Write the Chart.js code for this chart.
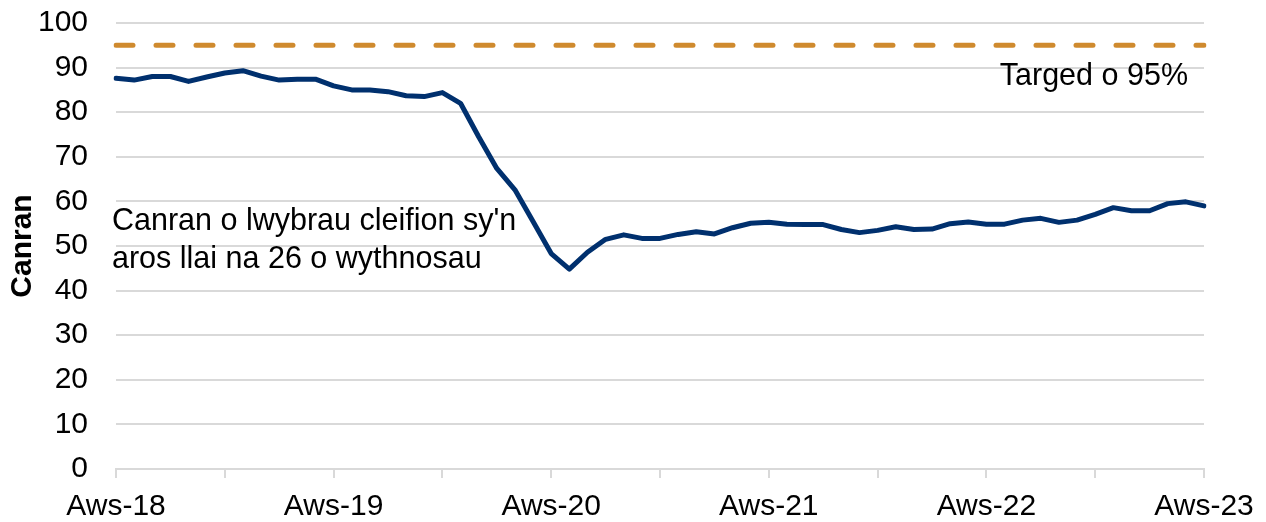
<!DOCTYPE html>
<html>
<head>
<meta charset="utf-8">
<script src="https://cdn.jsdelivr.net/npm/chart.js@4/dist/chart.umd.min.js"></script>
<style>
  html, body { margin: 0; padding: 0; background: #fff; }
  #wrap { width: 1266px; height: 522px; }
</style>
</head>
<body>
<div id="wrap"><canvas id="chart" width="1266" height="522"></canvas></div>
<script>
// Welsh month abbreviations, Aws-18 .. Aws-23
const months = ["Aws", "Med", "Hyd", "Tach", "Rhag", "Ion", "Chwef", "Maw", "Ebr", "Mai", "Meh", "Gorff"];
const firstYear = 18;
const labels = [];
for (let i = 0; i <= 60; i++) {
  const m = i % 12;
  const yr = firstYear + Math.floor((i + 7) / 12);
  labels.push(months[m] + "-" + yr);
}

// % of patient pathways waiting under 26 weeks
const canran = [
  87.6, 87.2, 88.0, 88.0, 86.9, 87.9, 88.8, 89.3, 88.1, 87.2, 87.4, 87.4,
  85.9, 85.0, 85.0, 84.6, 83.7, 83.5, 84.4, 82.0, 74.5, 67.4, 62.6, 55.5,
  48.3, 44.8, 48.6, 51.5, 52.5, 51.7, 51.7, 52.6, 53.2, 52.7, 54.1, 55.1,
  55.3, 54.9, 54.8, 54.8, 53.7, 53.0, 53.5, 54.3, 53.7, 53.8, 55.0, 55.4,
  54.9, 54.9, 55.8, 56.2, 55.3, 55.8, 57.1, 58.6, 57.9, 57.9, 59.5, 59.9,
  59.0
];

const targetValue = 95;
const targetData = [
  { x: labels[0], y: targetValue },
  { x: labels[labels.length - 1], y: targetValue }
];

const yTicks = { min: 0, max: 100, step: 10 };

const FONT = "'Liberation Sans', Arial, sans-serif";
Chart.defaults.font.family = FONT;
Chart.defaults.font.size = 30;
Chart.defaults.color = "#000";

// text labels inside the plot
const notes = {
  id: "notes",
  afterDatasetsDraw(chart) {
    const { ctx, chartArea } = chart;
    ctx.save();
    ctx.fillStyle = "#000";
    ctx.font = "30.5px " + FONT;
    ctx.textBaseline = "alphabetic";
    ctx.textAlign = "right";
    ctx.fillText("Targed o 95%", chartArea.right - 16, 85);
    ctx.textAlign = "left";
    ctx.fillText("Canran o lwybrau cleifion sy'n", chartArea.left - 4, 230);
    ctx.fillText("aros llai na 26 o wythnosau", chartArea.left - 4, 268);
    ctx.restore();
  }
};

const ctx = document.getElementById("chart").getContext("2d");
new Chart(ctx, {
  type: "line",
  data: {
    labels: labels,
    datasets: [
      {
        label: "Targed o 95%",
        data: targetData,
        borderColor: "#CF8A2E",
        borderWidth: 5,
        borderDash: [17, 23],
        borderCapStyle: "round",
        pointRadius: 0,
        order: 2
      },
      {
        label: "Canran",
        data: canran,
        borderColor: "#00306E",
        borderWidth: 5,
        borderJoinStyle: "round",
        borderCapStyle: "round",
        tension: 0,
        pointRadius: 0,
        order: 1
      }
    ]
  },
  options: {
    responsive: false,
    animation: false,
    events: [],
    layout: {
      padding: { top: 23, right: 62, left: 0, bottom: 0 }
    },
    plugins: {
      legend: { display: false },
      tooltip: { enabled: false }
    },
    scales: {
      x: {
        afterFit: (scale) => { scale.height = 53; },
        grid: {
          drawOnChartArea: false,
          drawTicks: true,
          tickLength: 9,
          lineWidth: 2,
          color: (c) => (c.index % 6 === 0 ? "#d9d9d9" : "rgba(0,0,0,0)")
        },
        border: { display: true, color: "#d9d9d9", width: 2 },
        ticks: {
          autoSkip: false,
          maxRotation: 0,
          minRotation: 0,
          padding: 11,
          callback: function (val, i) {
            return i % 12 === 0 ? this.getLabelForValue(val) : "";
          }
        }
      },
      y: {
        min: yTicks.min,
        max: yTicks.max,
        afterFit: (scale) => { scale.width = 116; },
        grid: {
          drawTicks: true,
          tickLength: 28,
          tickColor: "rgba(0,0,0,0)",
          color: "#d9d9d9",
          lineWidth: 2
        },
        border: { display: false },
        ticks: {
          stepSize: yTicks.step,
          padding: 0
        },
        title: {
          display: true,
          text: "Canran",
          font: { size: 30, weight: "bold" },
          padding: { top: 5, bottom: 0 }
        }
      }
    }
  },
  plugins: [notes]
});
</script>
</body>
</html>
